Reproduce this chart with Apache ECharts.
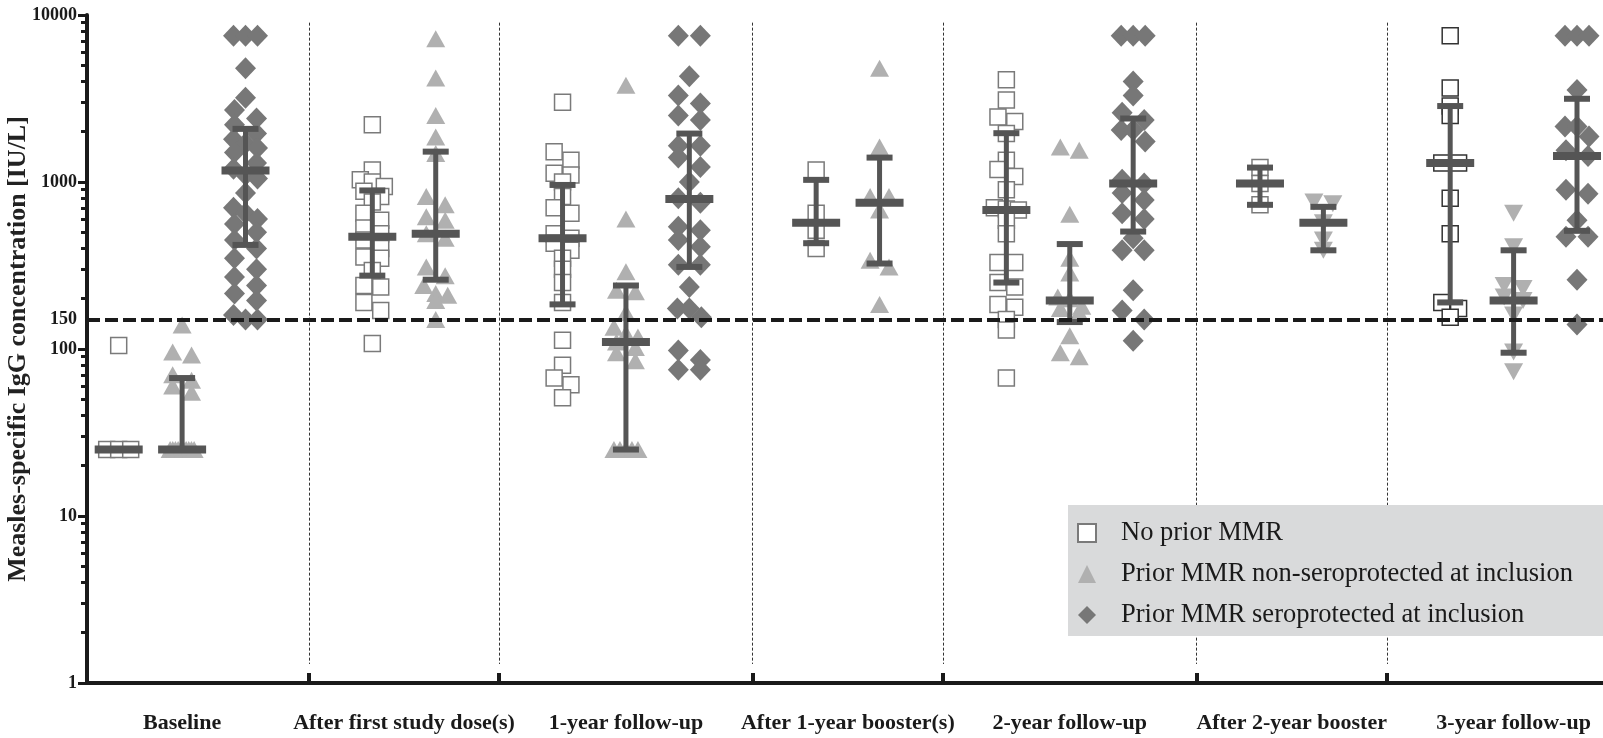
<!DOCTYPE html>
<html style="height: 100%">

<head>
    <meta charset="UTF-8" />
    <script type="text/javascript" src="https://cdn.jsdelivr.net/npm/echarts@6.0.0/dist/echarts.min.js"></script>
</head>

<body style="height: 100%; margin: 0">
    <div id="container" style="width: 1603px; height: 738px"></div>
    <script>
        // timepoints on the x axis
        var categories = ['Baseline', 'After first study dose(s)', '1-year follow-up', 'After 1-year booster(s)',
            '2-year follow-up', 'After 2-year booster', '3-year follow-up'];
        var groupNames = ['No prior MMR', 'Prior MMR non-seroprotected at inclusion', 'Prior MMR seroprotected at inclusion'];

        // IgG values (IU/L) per timepoint, null = group not measured
        var noPrior = [
            [25, 25, 25, 105],
            [2200, 1180, 1030, 1000, 940, 880, 820, 760, 650, 590, 530, 490, 450, 400, 355, 350, 295, 240, 235, 190, 170, 108],
            [3000, 1520, 1350, 1130, 1100, 1000, 820, 700, 650, 490, 460, 430, 390, 350, 300, 250, 190, 113, 80, 67, 61, 51],
            [1180, 650, 515, 400],
            [4100, 3100, 2450, 2300, 1950, 1350, 1190, 1080, 900, 700, 690, 680, 590, 490, 330, 330, 250, 235, 185, 178, 150, 130, 67],
            [1220, 980, 730],
            [7500, 3650, 2850, 2500, 1300, 1300, 800, 490, 190, 175, 155]
        ];
        var nonSero = [
            [25, 25, 25, 25, 25, 25, 25, 25, 25, 25, 55, 60, 65, 70, 92, 96, 139],
            [7200, 4200, 2500, 1860, 1480, 820, 730, 620, 590, 490, 460, 310, 275, 240, 215, 210, 195, 150],
            [3800, 600, 290, 225, 220, 165, 135, 124, 118, 110, 102, 95, 85, 25, 25, 25, 25, 25],
            [4800, 1620, 820, 820, 680, 340, 310, 185],
            [1620, 1550, 640, 350, 285, 205, 200, 180, 175, 165, 120, 95, 90],
            [760, 740, 570, 450, 390],
            [650, 410, 240, 230, 205, 195, 160, 96, 73]
        ];
        var sero = [
            [7500, 7500, 7500, 4800, 3200, 2700, 2400, 2200, 1950, 1800, 1700, 1600, 1500, 1300, 1200, 1100, 1050, 860,
                700, 650, 600, 560, 500, 450, 400, 350, 300, 270, 240, 215, 195, 160, 150, 150],
            null,
            [7500, 7500, 4300, 3300, 2950, 2500, 2350, 1650, 1650, 1400, 1230, 1000, 800, 750, 540, 515, 450, 410, 320, 320,
                235, 175, 175, 155, 98, 86, 75, 75],
            null,
            [7500, 7500, 7500, 4000, 3300, 2600, 2350, 2050, 2050, 1750, 1030, 980, 860, 780, 650, 600, 460, 390, 390, 225, 170, 150, 112],
            null,
            [7500, 7500, 7500, 3550, 2150, 2150, 1870, 1550, 1430, 900, 850, 590, 470, 470, 260, 140]
        ];

        // [median, q1, q3]
        var noPriorStats = [[25, 25, 25], [470, 275, 890], [460, 185, 960], [570, 430, 1030], [680, 250, 1960], [980, 730, 1220], [1300, 190, 2850]];
        var nonSeroStats = [[25, 25, 67], [490, 260, 1520], [110, 25, 240], [750, 325, 1400], [195, 145, 425], [570, 390, 710], [195, 95, 390]];
        var seroStats = [[1170, 420, 2080], null, [790, 310, 1950], null, [980, 505, 2400], null, [1430, 510, 3150]];

        var threshold = 150;
        var invertedTriangles = [5, 6];   // timepoints drawn with down triangles
        var darkSquares = [6];

        var FONT = 'Liberation Serif';
        var INK = '#1a1a1a';
        var BAR = '#555555';
        var GRID = { left: 87, right: 0, top: 15, bottom: 55 };
        var W = 1603, H = 738;
        var xMin = -0.5, xMax = 23.41;
        var pxPerDecade = (H - GRID.top - GRID.bottom) / 4;
        var pxPerSlot = (W - GRID.left - GRID.right) / (xMax - xMin);

        var groups = [noPrior, nonSero, sero];
        var stats = [noPriorStats, nonSeroStats, seroStats];
        var sizes = [16, 18, 21];

        // one slot per column, one empty slot between timepoints
        var columns = [], separators = [], labelSlots = [];
        var slot = 0;
        for (var t = 0; t < categories.length; t++) {
            var first = slot;
            for (var g = 0; g < 3; g++) {
                if (groups[g][t]) { columns.push({ g: g, t: t, slot: slot }); slot++; }
            }
            labelSlots.push((first + slot - 1) / 2);
            if (t < categories.length - 1) { separators.push(slot); slot++; }
        }

        // simple row-based swarm so equal values sit side by side
        function swarm(values, size) {
            var sorted = values.slice().sort(function (a, b) { return b - a; });
            var rows = [];
            sorted.forEach(function (v) {
                var py = Math.log10(v) * pxPerDecade;
                var row = rows[rows.length - 1];
                if (row && row.py - py < size * 0.55) row.vals.push(v);
                else rows.push({ py: py, vals: [v] });
            });
            var out = [];
            rows.forEach(function (row) {
                var n = row.vals.length;
                var step = n > 1 ? Math.min(size * 1.05, 24 / (n - 1)) : 0;
                row.vals.forEach(function (v, i) {
                    out.push([(i - (n - 1) / 2) * step / pxPerSlot, v]);
                });
            });
            return out;
        }

        var pointData = [[], [], []];
        var barData = [];
        columns.forEach(function (c) {
            swarm(groups[c.g][c.t], sizes[c.g]).forEach(function (p) {
                var item = { value: [c.slot + p[0], p[1]] };
                if (c.g === 1 && invertedTriangles.indexOf(c.t) >= 0) item.symbolRotate = 180;
                if (c.g === 0 && darkSquares.indexOf(c.t) >= 0) item.itemStyle = { borderColor: '#333333' };
                pointData[c.g].push(item);
            });
            var s = stats[c.g][c.t];
            barData.push([c.slot, s[0], s[1], s[2]]);
        });

        function renderErrorBar(params, api) {
            var x = api.value(0);
            var m = api.coord([x, api.value(1)]);
            var lo = api.coord([x, api.value(2)]);
            var hi = api.coord([x, api.value(3)]);
            var style = { fill: BAR };
            return {
                type: 'group',
                children: [
                    { type: 'rect', shape: { x: m[0] - 2.5, y: hi[1], width: 5, height: lo[1] - hi[1] }, style: style },
                    { type: 'rect', shape: { x: m[0] - 13, y: hi[1] - 3, width: 26, height: 6 }, style: style },
                    { type: 'rect', shape: { x: m[0] - 13, y: lo[1] - 3, width: 26, height: 6 }, style: style },
                    { type: 'rect', shape: { x: m[0] - 24, y: m[1] - 4, width: 48, height: 8 }, style: style }
                ]
            };
        }

        var dom = document.getElementById('container');
        var chart = echarts.init(dom, null, { renderer: 'canvas', width: W, height: H });

        var sepLines = separators.map(function (s) {
            return [{ coord: [s, 9000] }, { coord: [s, 1.3] }];
        });

        chart.setOption({
            animation: false,
            backgroundColor: '#ffffff',
            grid: {
                left: GRID.left, right: GRID.right, top: GRID.top, bottom: GRID.bottom,
                containLabel: false, outerBoundsMode: 'none'
            },
            legend: {
                data: groupNames,
                orient: 'vertical',
                left: 1077,
                top: 519,
                padding: 0,
                itemWidth: 18,
                itemHeight: 18,
                itemGap: 13,
                selectedMode: false,
                z: 101,
                textStyle: { fontFamily: FONT, fontSize: 26.5, lineHeight: 28, color: INK, padding: [0, 0, 0, 20] }
            },
            graphic: {
                z: 100,
                elements: [{
                    type: 'rect', left: 1068, top: 505, z: 100, silent: true,
                    shape: { width: 545, height: 131 },
                    style: { fill: '#d9dadb' }
                }]
            },
            xAxis: {
                type: 'value',
                min: xMin,
                max: xMax,
                axisLine: { show: true, onZero: false, lineStyle: { color: INK, width: 4 } },
                axisTick: { show: true, customValues: separators, inside: true, length: 10, lineStyle: { color: INK, width: 4 } },
                axisLabel: {
                    customValues: labelSlots,
                    hideOverlap: false,
                    margin: 29,
                    fontFamily: FONT, fontWeight: 'bold', fontSize: 22, color: INK,
                    formatter: function (v) {
                        for (var i = 0; i < labelSlots.length; i++) {
                            if (Math.abs(labelSlots[i] - v) < 0.01) return categories[i];
                        }
                        return '';
                    }
                },
                splitLine: { show: false }
            },
            yAxis: {
                type: 'log',
                logBase: 10,
                min: 1,
                max: 10000,
                name: 'Measles-specific IgG concentration [IU/L]',
                nameLocation: 'middle',
                nameGap: 56,
                nameMoveOverlap: false,
                nameTextStyle: { fontFamily: FONT, fontWeight: 'bold', fontSize: 26, color: '#222222' },
                axisLine: { show: true, onZero: false, lineStyle: { color: INK, width: 4 } },
                axisTick: { show: true, length: 9, lineStyle: { color: INK, width: 3 } },
                minorTick: { show: true, splitNumber: 9, length: 6, lineStyle: { color: INK, width: 3 } },
                axisLabel: {
                    margin: 10,
                    fontFamily: FONT, fontWeight: 'bold', fontSize: 18, color: INK,
                    formatter: function (v) { return String(Math.round(v)); }
                },
                splitLine: { show: false }
            },
            series: [
                {
                    type: 'scatter', name: 'separators', data: [], z: 1, silent: true,
                    markLine: {
                        silent: true, symbol: ['none', 'none'], animation: false,
                        label: { show: false },
                        lineStyle: { type: [3, 2], width: 1, color: '#333333' },
                        data: sepLines
                    }
                },
                {
                    type: 'scatter', name: groupNames[0], symbol: 'rect', symbolSize: sizes[0], z: 2,
                    itemStyle: { color: '#ffffff', borderColor: '#7a7a7a', borderWidth: 1.5, opacity: 1 },
                    data: pointData[0]
                },
                {
                    type: 'scatter', name: groupNames[1], symbol: 'triangle', symbolSize: [19, 17], z: 2,
                    itemStyle: { color: '#b0b0b0', opacity: 1 },
                    data: pointData[1]
                },
                {
                    type: 'scatter', name: groupNames[2], symbol: 'diamond', symbolSize: [21, 22], z: 2,
                    itemStyle: { color: '#777777', opacity: 1 },
                    data: pointData[2]
                },
                {
                    type: 'scatter', name: 'threshold', data: [], z: 3, silent: true,
                    markLine: {
                        silent: true, symbol: ['none', 'none'], animation: false,
                        lineStyle: { type: [13, 5], width: 4, color: INK },
                        label: {
                            show: true, position: 'start', distance: 10,
                            formatter: String(threshold),
                            fontFamily: FONT, fontWeight: 'bold', fontSize: 18, color: INK
                        },
                        data: [[{ coord: [xMin, threshold] }, { coord: [xMax, threshold] }]]
                    }
                },
                {
                    type: 'custom', name: 'median IQR', z: 4, silent: true,
                    renderItem: renderErrorBar,
                    data: barData
                }
            ]
        });
    </script>
</body>

</html>
